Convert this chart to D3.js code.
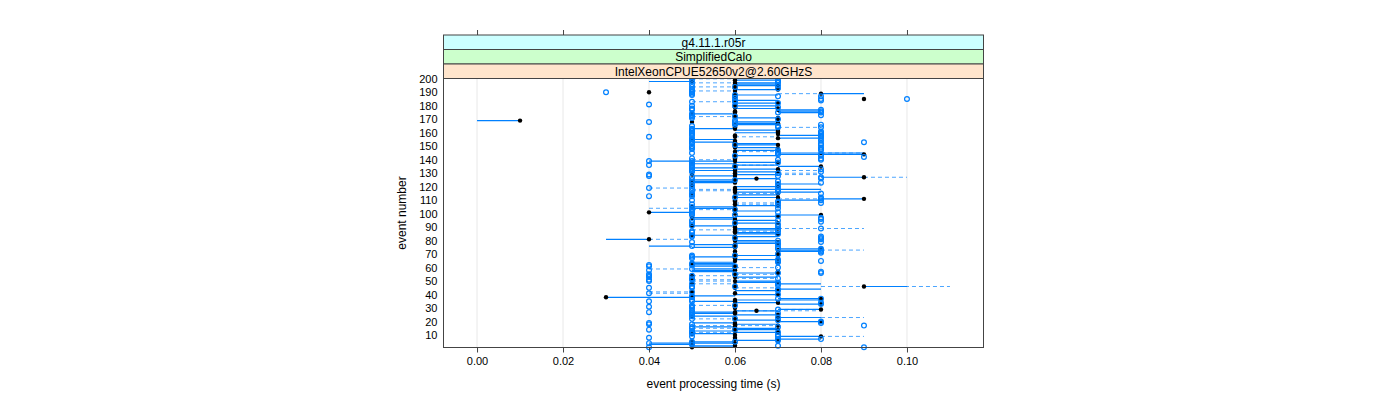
<!DOCTYPE html>
<html><head><meta charset="utf-8">
<script src="https://cdn.jsdelivr.net/npm/d3@7/dist/d3.min.js"></script>
<style>
body{margin:0;background:#fff}
text{font-family:"Liberation Sans",Arial,Helvetica,sans-serif;fill:#000}
</style>
</head><body>
<svg id="chart" width="1400" height="400"></svg>
<script>
// ---- strips / axes ----
const stripLabels = ["g4.11.1.r05r", "SimplifiedCalo", "IntelXeonCPUE52650v2@2.60GHzS"];
const stripColors = ["#ccffff", "#ccffcc", "#ffe5cc"];
const xTicks = [0.00, 0.02, 0.04, 0.06, 0.08, 0.10];
const yTicks = [10, 20, 30, 40, 50, 60, 70, 80, 90, 100, 110, 120, 130, 140, 150, 160, 170, 180, 190, 200];
const xTitle = "event processing time (s)";
const yTitle = "event number";

// ---- data (event 1..200) ----
const firstEvent = 1;
// black points
const blackTime = [
 0.05,0.06,0.05,0.06,0.05,0.07,0.06,0.06,0.08,0.06,
 0.05,0.07,0.06,0.07,0.06,0.06,0.07,0.06,0.06,0.08,
 0.07,0.06,0.07,0.05,0.07,0.06,0.06,0.065,0.08,0.06,
 0.06,0.06,0.08,0.07,0.06,0.06,0.08,0.03,0.05,0.07,
 0.06,0.05,0.07,0.07,0.06,0.09,0.06,0.05,0.07,0.06,
 0.05,0.05,0.06,0.05,0.06,0.07,0.07,0.06,0.06,0.06,
 0.06,0.05,0.05,0.07,0.06,0.07,0.06,0.06,0.07,0.06,
 0.07,0.06,0.07,0.08,0.06,0.06,0.06,0.07,0.07,0.06,
 0.04,0.06,0.06,0.05,0.07,0.06,0.06,0.06,0.07,0.06,
 0.05,0.06,0.07,0.06,0.06,0.06,0.05,0.07,0.08,0.06,
 0.04,0.06,0.06,0.06,0.05,0.07,0.06,0.07,0.06,0.06,
 0.09,0.07,0.06,0.05,0.07,0.06,0.06,0.06,0.06,0.07,
 0.05,0.07,0.06,0.05,0.06,0.065,0.09,0.06,0.05,0.06,
 0.07,0.06,0.07,0.06,0.08,0.06,0.05,0.07,0.06,0.06,
 0.06,0.06,0.06,0.09,0.08,0.06,0.07,0.07,0.06,0.06,
 0.07,0.06,0.06,0.06,0.05,0.07,0.06,0.06,0.07,0.07,
 0.07,0.07,0.06,0.06,0.06,0.06,0.07,0.05,0.01,0.07,
 0.07,0.06,0.06,0.05,0.06,0.06,0.07,0.07,0.06,0.06,
 0.06,0.07,0.06,0.06,0.09,0.06,0.06,0.06,0.08,0.04,
 0.06,0.07,0.06,0.06,0.07,0.06,0.06,0.05,0.06,0.06
];
// first set of open blue points
const blueTimeA = [
 0.04,0.07,0.05,0.04,0.05,0.07,0.08,0.04,0.07,0.07,
 0.05,0.07,0.05,0.04,0.05,0.05,0.09,0.04,0.04,0.08,
 0.07,0.05,0.07,0.05,0.05,0.05,0.04,0.05,0.07,0.05,
 0.04,0.05,0.08,0.08,0.04,0.05,0.08,0.05,0.05,0.07,
 0.04,0.05,0.07,0.07,0.05,0.05,0.07,0.05,0.07,0.04,
 0.04,0.07,0.04,0.04,0.04,0.08,0.08,0.04,0.05,0.07,
 0.04,0.04,0.05,0.07,0.08,0.07,0.05,0.05,0.05,0.07,
 0.08,0.08,0.08,0.08,0.07,0.05,0.07,0.07,0.08,0.07,
 0.08,0.08,0.05,0.05,0.07,0.05,0.05,0.07,0.08,0.07,
 0.05,0.07,0.05,0.08,0.05,0.08,0.08,0.07,0.05,0.05,
 0.05,0.05,0.05,0.07,0.05,0.07,0.05,0.07,0.07,0.08,
 0.08,0.08,0.04,0.05,0.05,0.07,0.05,0.07,0.04,0.07,
 0.05,0.07,0.05,0.07,0.05,0.08,0.08,0.04,0.04,0.07,
 0.08,0.05,0.08,0.05,0.05,0.04,0.05,0.05,0.04,0.07,
 0.08,0.09,0.08,0.08,0.07,0.07,0.07,0.08,0.05,0.05,
 0.08,0.05,0.09,0.05,0.05,0.08,0.04,0.05,0.08,0.08,
 0.05,0.05,0.05,0.07,0.05,0.08,0.06,0.04,0.06,0.07,
 0.05,0.05,0.08,0.05,0.08,0.08,0.08,0.05,0.07,0.05,
 0.04,0.07,0.05,0.06,0.10,0.06,0.08,0.05,0.05,0.03,
 0.05,0.05,0.07,0.05,0.07,0.05,0.07,0.05,0.07,0.05
];
// second set of open blue points
const blueTimeB = [
 0.09,null,null,0.05,0.06,null,0.07,null,0.05,null,
 null,0.05,null,0.06,null,0.07,null,0.05,0.08,null,
 null,0.06,null,null,null,0.07,0.05,null,null,null,
 0.05,0.06,null,null,0.05,null,0.07,null,null,null,
 null,null,null,null,0.04,0.06,null,0.07,null,null,
 0.05,0.05,null,0.05,0.06,0.07,null,null,null,null,
 0.06,0.05,null,null,0.07,null,null,null,0.06,null,
 null,null,null,0.07,null,0.06,null,null,0.05,null,
 null,0.06,0.08,null,null,null,0.07,null,null,null,
 null,null,0.06,null,0.07,null,null,null,0.06,null,
 0.07,null,0.06,null,null,null,null,0.08,null,0.05,
 null,0.06,0.05,null,0.08,null,0.07,null,0.05,null,
 null,null,0.08,null,0.06,null,0.05,0.07,null,null,
 0.05,null,0.05,null,0.06,0.05,null,0.07,0.05,0.08,
 0.05,null,0.06,0.07,0.05,null,0.08,0.05,0.08,null,
 0.06,0.08,0.05,0.08,null,0.05,0.08,0.08,0.05,0.05,
 0.08,null,null,0.08,0.07,0.06,null,0.06,null,null,
 null,0.06,0.05,null,0.07,null,0.05,null,null,0.06,
 null,null,0.06,0.08,0.08,null,0.07,0.06,null,0.05,
 null,null,null,0.06,null,null,null,0.07,null,null
];
// solid interval (from, to)
const solidFrom = [
 0.05,0.05,0.04,0.04,0.05,0.06,0.07,null,0.07,null,
 0.05,0.06,0.05,0.06,0.06,0.05,null,0.06,0.05,0.07,
 0.06,null,0.07,0.05,0.06,0.05,0.05,0.06,0.07,null,
 null,null,0.07,0.06,0.05,0.06,0.07,0.03,0.05,0.06,
 null,null,0.06,0.07,null,0.09,null,0.07,0.06,0.06,
 null,null,0.06,null,null,0.06,0.05,0.05,0.05,null,
 0.05,0.05,0.05,0.05,null,0.06,null,0.05,0.06,null,
 null,0.07,0.07,0.07,0.05,0.04,0.05,0.06,0.06,0.06,
 0.03,null,0.06,0.05,0.06,0.06,null,0.06,0.06,null,
 0.05,null,0.06,null,0.06,0.05,0.05,0.06,0.07,null,
 0.04,0.06,null,0.05,0.05,0.06,null,null,null,0.07,
 0.08,0.06,null,0.06,null,0.06,null,0.06,null,0.06,
 null,0.07,0.05,0.05,0.05,0.06,0.08,0.05,0.06,null,
 0.06,0.05,0.06,0.05,0.07,0.06,0.05,0.06,0.04,null,
 null,null,0.06,0.07,0.07,null,0.06,null,0.06,null,
 0.06,0.06,0.05,null,0.05,0.07,null,0.07,null,0.06,
 null,0.06,0.05,null,null,0.06,0.06,0.06,0.00,null,
 0.06,null,null,0.05,0.07,0.07,0.07,0.06,null,0.06,
 null,0.06,null,0.06,null,null,null,0.06,0.08,null,
 null,0.06,null,null,0.06,0.06,0.06,0.04,0.06,null
];
const solidTo = [
 0.06,0.06,0.05,0.06,0.06,0.07,0.08,null,0.08,null,
 0.06,0.07,0.06,0.07,0.07,0.06,null,0.07,0.06,0.08,
 0.07,null,0.08,0.06,0.07,0.06,0.06,0.07,0.08,null,
 null,null,0.08,0.07,0.06,0.08,0.08,0.05,0.06,0.07,
 null,null,0.07,0.08,null,0.10,null,0.08,0.07,0.07,
 null,null,0.07,null,null,0.07,0.06,0.06,0.06,null,
 0.06,0.06,0.06,0.06,null,0.07,null,0.06,0.07,null,
 null,0.08,0.08,0.08,0.06,0.05,0.06,0.07,0.07,0.07,
 0.04,null,0.07,0.06,0.07,0.07,null,0.07,0.07,null,
 0.06,null,0.07,null,0.07,0.06,0.06,0.07,0.08,null,
 0.05,0.07,null,0.06,0.06,0.07,null,null,null,0.08,
 0.09,0.07,null,0.07,null,0.08,null,0.08,null,0.07,
 null,0.08,0.06,0.06,0.06,0.07,0.09,0.06,0.07,null,
 0.07,0.06,0.07,0.06,0.08,0.07,0.06,0.07,0.06,null,
 null,null,0.07,0.09,0.09,null,0.07,null,0.07,null,
 0.07,0.07,0.06,null,0.06,0.08,null,0.08,null,0.07,
 null,0.07,0.06,null,null,0.07,0.07,0.07,0.01,null,
 0.07,null,null,0.06,0.08,0.08,0.08,0.07,null,0.07,
 null,0.07,null,0.07,null,null,null,0.07,0.09,null,
 null,0.07,null,null,0.07,0.07,0.07,0.05,0.07,null
];
// dashed interval (sparse: event, from, to)
const dashedEvent = [9,12,15,17,22,23,28,29,32,41,42,45,46,48,50,51,52,54,55,59,60,73,81,87,88,89,
  103,104,107,108,111,115,117,118,119,127,129,130,132,136,140,145,146,157,164,172,183,189,191,194,197,200];
const dashedFrom = [0.08,0.05,0.05,0.05,0.05,0.08,0.06,0.07,0.05,0.04,0.04,0.06,0.08,0.05,0.05,0.05,0.06,0.05,0.06,0.04,0.06,0.08,0.04,0.06,0.05,0.07,
  0.05,0.04,0.06,0.06,0.07,0.06,0.05,0.05,0.04,0.09,0.07,0.07,0.07,0.06,0.05,0.08,0.06,0.06,0.07,0.05,0.05,0.07,0.05,0.05,0.05,0.05];
const dashedTo = [0.09,0.06,0.06,0.07,0.06,0.09,0.08,0.08,0.06,0.05,0.05,0.07,0.11,0.06,0.06,0.06,0.07,0.06,0.07,0.05,0.07,0.09,0.05,0.07,0.06,0.09,
  0.06,0.05,0.07,0.07,0.08,0.07,0.06,0.06,0.05,0.10,0.08,0.08,0.08,0.07,0.06,0.09,0.07,0.07,0.08,0.06,0.06,0.08,0.06,0.06,0.06,0.06];

// ---- layout ----
const svg = d3.select("#chart");
const P = {left: 443.5, right: 983.5, top: 78.5, bottom: 347.5};
const stripH = 14.5;
const blue = "#0080ff";

const x = d3.scaleLinear().domain([-0.0078, 0.1178]).range([P.left, P.right]);
const y = d3.scaleLinear().domain([0.4, 200.6]).range([348, 78]);

const rows = blackTime.map((b, i) => ({
  ev: firstEvent + i, b, ca: blueTimeA[i], cb: blueTimeB[i], s0: solidFrom[i], s1: solidTo[i]
}));
const dashes = dashedEvent.map((ev, i) => ({ev, d0: dashedFrom[i], d1: dashedTo[i]}));

// grid
svg.append("g").selectAll("line").data(xTicks).join("line")
  .attr("x1", d => x(d)).attr("x2", d => x(d))
  .attr("y1", P.top).attr("y2", P.bottom)
  .attr("stroke", "#e8e8e8").attr("stroke-width", 1);

const plot = svg.append("g");
// dashed intervals
plot.append("g").selectAll("line").data(dashes).join("line")
  .attr("x1", d => x(d.d0)).attr("x2", d => x(d.d1))
  .attr("y1", d => y(d.ev)).attr("y2", d => y(d.ev))
  .attr("stroke", blue).attr("stroke-opacity", 0.7).attr("stroke-width", 1)
  .attr("stroke-dasharray", "4,3");
// solid intervals
plot.append("g").selectAll("line").data(rows.filter(r => r.s0 != null)).join("line")
  .attr("x1", d => x(d.s0)).attr("x2", d => x(d.s1))
  .attr("y1", d => y(d.ev)).attr("y2", d => y(d.ev))
  .attr("stroke", blue).attr("stroke-width", 1.2);
// black points
plot.append("g").selectAll("circle").data(rows).join("circle")
  .attr("cx", d => x(d.b)).attr("cy", d => y(d.ev)).attr("r", 2.2)
  .attr("fill", "#000");
// blue open points
const blues = [];
rows.forEach(r => { if (r.ca != null) blues.push({ev: r.ev, t: r.ca}); if (r.cb != null) blues.push({ev: r.ev, t: r.cb}); });
plot.append("g").selectAll("circle").data(blues).join("circle")
  .attr("cx", d => x(d.t)).attr("cy", d => y(d.ev)).attr("r", 2.4)
  .attr("fill", "none").attr("stroke", blue).attr("stroke-width", 1.2);

// panel border
svg.append("rect").attr("x", P.left).attr("y", P.top)
  .attr("width", P.right - P.left).attr("height", P.bottom - P.top)
  .attr("fill", "none").attr("stroke", "#444").attr("stroke-width", 1);

// strips (bottom strip is closest to panel)
stripLabels.forEach((lab, i) => {
  const top = P.top - stripH * (3 - i);
  svg.append("rect").attr("x", P.left).attr("y", top)
    .attr("width", P.right - P.left).attr("height", stripH)
    .attr("fill", stripColors[i]).attr("stroke", "#444").attr("stroke-width", 1);
  svg.append("text").attr("x", (P.left + P.right) / 2).attr("y", top + stripH / 2 + 4.3)
    .attr("text-anchor", "middle").attr("font-size", 12).text(lab);
});

// bottom axis
const xb = svg.append("g").attr("transform", `translate(0,${P.bottom})`)
  .call(d3.axisBottom(x).tickValues(xTicks).tickFormat(d3.format(".2f")).tickSize(5).tickPadding(5));
xb.select(".domain").remove();
xb.selectAll("line").attr("stroke", "#444");
xb.selectAll("text").attr("font-size", 11).attr("font-family", "Liberation Sans, Arial, sans-serif");
// top axis ticks (no labels)
const stripTop = P.top - stripH * 3;
const xt = svg.append("g").attr("transform", `translate(0,${stripTop})`)
  .call(d3.axisTop(x).tickValues(xTicks).tickFormat("").tickSize(5));
xt.select(".domain").remove();
xt.selectAll("line").attr("stroke", "#444");

// left axis labels
const yl = svg.append("g").attr("transform", `translate(${P.left},0)`)
  .call(d3.axisLeft(y).tickValues(yTicks).tickSize(0).tickPadding(6));
yl.select(".domain").remove();
yl.selectAll("text").attr("font-size", 11).attr("font-family", "Liberation Sans, Arial, sans-serif");

// titles
svg.append("text").attr("x", (P.left + P.right) / 2).attr("y", 388)
  .attr("text-anchor", "middle").attr("font-size", 12).text(xTitle);
svg.append("text").attr("transform", `translate(406,${(P.top + P.bottom) / 2}) rotate(-90)`)
  .attr("text-anchor", "middle").attr("font-size", 12).text(yTitle);
</script>
</body></html>
